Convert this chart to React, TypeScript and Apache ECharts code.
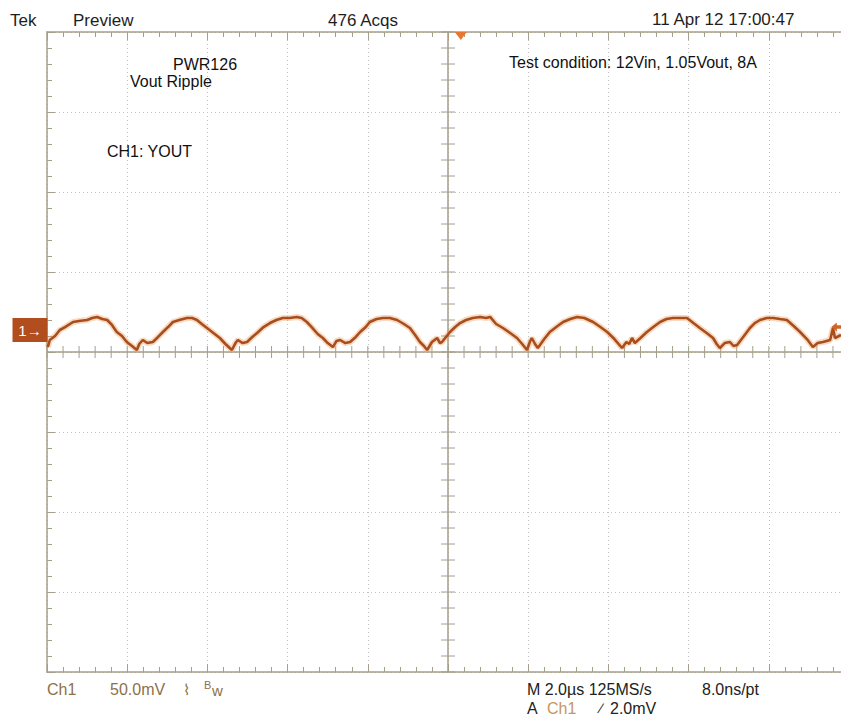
import React, { useEffect, useRef } from "react";
import * as echarts from "echarts";

// Time base: 2.0 µs/div, 10 divisions; vertical: 50 mV/div, 8 divisions
const timeRange = [-10, 10];
const voltRange = [-200, 200];
const timeStep = 2;
const voltStep = 50;

// Ripple waveform (time in µs, voltage in mV relative to screen centre)
const timeUs = [
  -9.98, -9.93, -9.8, -9.68, -9.55, -9.35, -9.2, -9.0, -8.87, -8.75, -8.62, -8.5, -8.38, -8.26,
  -8.13, -8.01, -7.88, -7.76, -7.7, -7.61, -7.5, -7.36, -7.23, -7.11, -6.98, -6.86, -6.7, -6.51,
  -6.38, -6.26, -6.14, -6.01, -5.85, -5.69, -5.55, -5.39, -5.3, -5.24, -5.12, -5.01, -4.88, -4.76,
  -4.6, -4.44, -4.28, -4.12, -3.95, -3.77, -3.65, -3.52, -3.4, -3.25, -3.12, -3.0, -2.87, -2.78,
  -2.69, -2.56, -2.44, -2.3, -2.19, -2.05, -1.95, -1.78, -1.62, -1.45, -1.27, -1.1, -0.95, -0.82,
  -0.7, -0.6, -0.52, -0.4, -0.27, -0.2, -0.15, -0.05, 0.05, 0.18, 0.3, 0.45, 0.62, 0.8, 0.95, 1.05,
  1.2, 1.37, 1.55, 1.72, 1.85, 1.97, 2.04, 2.09, 2.17, 2.24, 2.4, 2.54, 2.7, 2.87, 3.05, 3.22, 3.4,
  3.62, 3.8, 3.97, 4.15, 4.34, 4.45, 4.52, 4.59, 4.66, 4.8, 4.96, 5.12, 5.29, 5.45, 5.61, 5.8, 5.96,
  6.12, 6.28, 6.45, 6.61, 6.7, 6.78, 6.9, 7.03, 7.12, 7.21, 7.38, 7.53, 7.65, 7.78, 7.95, 8.11,
  8.28, 8.45, 8.62, 8.78, 8.95, 9.1, 9.22, 9.35, 9.53, 9.6, 9.65, 9.8,
];
const rippleMv = [
  3.1, 7.5, 10.0, 13.75, 15.6, 18.75, 19.4, 20.0, 21.25, 21.9, 20.6, 20.0, 16.9, 12.5,
  10.0, 6.25, 3.75, 1.25, 5.0, 7.5, 5.6, 6.25, 9.4, 12.5, 15.6, 18.75, 20.0, 21.25,
  21.25, 20.0, 17.5, 15.0, 11.9, 8.75, 5.0, 1.25, 5.6, 7.5, 5.6, 6.25, 9.4, 11.9,
  15.6, 18.1, 20.0, 21.25, 21.25, 21.9, 21.25, 18.75, 15.6, 11.25, 8.75, 5.6, 3.1, 6.9,
  7.5, 5.6, 6.25, 9.4, 12.5, 15.6, 18.75, 20.6, 21.25, 21.25, 20.0, 17.5, 15.0, 10.6,
  6.25, 3.75, 1.25, 6.25, 8.75, 5.6, 6.25, 9.4, 12.5, 15.6, 18.1, 20.0, 21.25, 21.9, 21.25, 21.9,
  17.5, 15.0, 11.9, 8.75, 5.0, 1.25, 6.25, 8.75, 5.0, 2.5, 8.1, 12.5, 15.6, 18.75, 20.6, 21.9, 21.25,
  18.75, 15.6, 12.5, 8.1, 2.5, 6.25, 5.0, 8.75, 5.6, 8.75, 12.5, 15.6, 18.75, 20.6, 21.25, 21.25, 21.25,
  18.1, 15.0, 11.9, 8.75, 5.0, 2.5, 5.6, 6.25, 3.75, 4.4, 10.0, 15.0, 18.1, 20.0, 21.25, 21.25,
  20.6, 20.0, 16.25, 12.5, 8.1, 3.1, 5.6, 6.25, 7.5, 15.0, 8.75, 10.6,
];

// Markers
const channelGroundMv = 13.75;
const triggerPosUs = 0.32;
const triggerLevelMv = 15.6;

// Screen texts
const headerTexts = ["Tek", "Preview", "476 Acqs", "11 Apr 12 17:00:47"];
const noteTexts = ["PWR126", "Vout Ripple", "Test condition: 12Vin, 1.05Vout, 8A", "CH1: YOUT"];
const footerTexts = ["Ch1", "50.0mV", "\u2307", "B", "w", "M 2.0\u00b5s 125MS/s", "8.0ns/pt", "A", "Ch1", "\u2215", "2.0mV"];

const frameColor = "#a69e8a";
const gridDot = "#c2c2c2";
const traceColor = "#a94d1c";
const FONT = '"Liberation Sans", Arial, sans-serif';

export default function App() {
  const ref = useRef<HTMLDivElement>(null);
  useEffect(() => {
    if (!ref.current) return;
    const chart = echarts.init(ref.current, undefined, { renderer: "svg" });
    const axisCommon = {
      type: "value",
      axisLabel: { show: false },
      axisLine: { show: true, onZero: false, lineStyle: { color: frameColor, width: 1.5 } },
      axisTick: { show: true, inside: true, length: 8, lineStyle: { color: frameColor, width: 1 } },
      minorTick: { show: true, splitNumber: 5, length: 5, lineStyle: { color: frameColor, width: 1 } },
    };
    const dotted = { show: true, lineStyle: { color: gridDot, type: [1, 3], width: 1 } };
    const txt = (text: string, x: number, y: number, size: number, fill: string) => ({
      type: "text",
      x,
      y,
      silent: true,
      style: { text, fill, font: `${size}px ${FONT}`, align: "left", verticalAlign: "middle" },
    });
    const series: any[] = [
      {
        type: "custom",
        silent: true,
        z: 1,
        data: [[0, 0]],
        renderItem: (_p: any, api: any) => {
          const c = api.coord([0, 0]);
          const lt = api.coord([timeRange[0], voltRange[1]]);
          const rb = api.coord([timeRange[1], voltRange[0]]);
          const st = { stroke: frameColor, lineWidth: 1.5 };
          const tst = { stroke: frameColor, lineWidth: 1 };
          const children: any[] = [
            { type: "line", shape: { x1: c[0], y1: lt[1], x2: c[0], y2: rb[1] }, style: st },
            { type: "line", shape: { x1: lt[0], y1: c[1], x2: rb[0], y2: c[1] }, style: st },
          ];
          const nx = ((timeRange[1] - timeRange[0]) / timeStep) * 5;
          for (let i = 0; i <= nx; i++) {
            const p = api.coord([timeRange[0] + (i * (timeRange[1] - timeRange[0])) / nx, 0]);
            children.push({ type: "line", shape: { x1: p[0], y1: p[1] - 6, x2: p[0], y2: p[1] + 6 }, style: tst });
          }
          const ny = ((voltRange[1] - voltRange[0]) / voltStep) * 5;
          for (let j = 0; j <= ny; j++) {
            const p = api.coord([0, voltRange[0] + (j * (voltRange[1] - voltRange[0])) / ny]);
            children.push({ type: "line", shape: { x1: p[0] - 7, y1: p[1], x2: p[0] + 7, y2: p[1] }, style: tst });
          }
          return { type: "group", children };
        },
      },
      {
        type: "line",
        z: 2,
        silent: true,
        symbol: "none",
        data: timeUs.map((t, i) => [t, rippleMv[i]]),
        lineStyle: { color: "rgba(232,150,80,0.35)", width: 6 },
      },
      {
        type: "line",
        z: 3,
        silent: true,
        symbol: "none",
        data: timeUs.map((t, i) => [t, rippleMv[i]]),
        lineStyle: { color: traceColor, width: 2.6 },
        markPoint: {
          silent: true,
          animation: false,
          data: [
            {
              coord: [timeRange[0], channelGroundMv],
              symbol: "rect",
              symbolSize: [35, 24],
              symbolOffset: [-17, 0],
              itemStyle: { color: "#b24e1d" },
              label: { show: true, formatter: "1\u2192", color: "#ffffff", fontSize: 15, fontFamily: FONT, position: "inside" },
            },
            {
              coord: [triggerPosUs, voltRange[1]],
              symbol: "triangle",
              symbolRotate: 180,
              symbolSize: [12, 8],
              symbolOffset: [0, 4],
              itemStyle: { color: "#e8762e" },
              label: { show: false },
            },
            {
              coord: [9.72, triggerLevelMv],
              symbol: "path://M0,5 L6,0 L6,3 L14,3 L14,7 L6,7 L6,10 Z",
              symbolSize: [13, 9],
              itemStyle: { color: "#d0652a" },
              label: { show: false },
            },
          ],
        },
      },
    ];
    chart.setOption({
      animation: false,
      backgroundColor: "#ffffff",
      grid: { left: 47, top: 32, width: 802, height: 640, outerBoundsMode: "none", containLabel: false },
      xAxis: [
        { ...axisCommon, min: timeRange[0], max: timeRange[1], interval: timeStep, position: "bottom", splitLine: dotted },
        { ...axisCommon, min: timeRange[0], max: timeRange[1], interval: timeStep, position: "top", splitLine: { show: false } },
      ],
      yAxis: [
        { ...axisCommon, min: voltRange[0], max: voltRange[1], interval: voltStep, position: "left", splitLine: dotted },
      ],
      series,
      graphic: [
        txt(headerTexts[0], 10, 20, 17, "#1e1e1e"),
        txt(headerTexts[1], 73, 20, 17, "#1e1e1e"),
        txt(headerTexts[2], 328, 20, 17, "#1e1e1e"),
        txt(headerTexts[3], 652, 19, 17, "#1e1e1e"),
        txt(noteTexts[0], 173, 64, 16, "#111111"),
        txt(noteTexts[1], 130, 81, 16, "#111111"),
        txt(noteTexts[2], 509, 62, 16, "#111111"),
        txt(noteTexts[3], 107, 151, 16, "#111111"),
        txt(footerTexts[0], 47, 689, 16, "#8c7148"),
        txt(footerTexts[1], 110, 689, 16, "#8c7148"),
        txt(footerTexts[2], 183, 689, 15, "#8c7148"),
        txt(footerTexts[3], 204, 685, 11, "#8c7148"),
        txt(footerTexts[4], 212, 690, 15, "#8c7148"),
        txt(footerTexts[5], 527, 689, 16, "#222222"),
        txt(footerTexts[6], 702, 689, 16, "#222222"),
        txt(footerTexts[7], 527, 708, 16, "#222222"),
        txt(footerTexts[8], 547, 708, 16, "#c8955c"),
        txt(footerTexts[9], 600, 708, 14, "#222222"),
        txt(footerTexts[10], 610, 708, 16, "#222222"),
      ],
    });
    return () => chart.dispose();
  }, []);
  return (
    <div
      ref={ref}
      style={{ position: "absolute", left: 0, top: 0, width: 841, height: 727, background: "#ffffff" }}
    />
  );
}
